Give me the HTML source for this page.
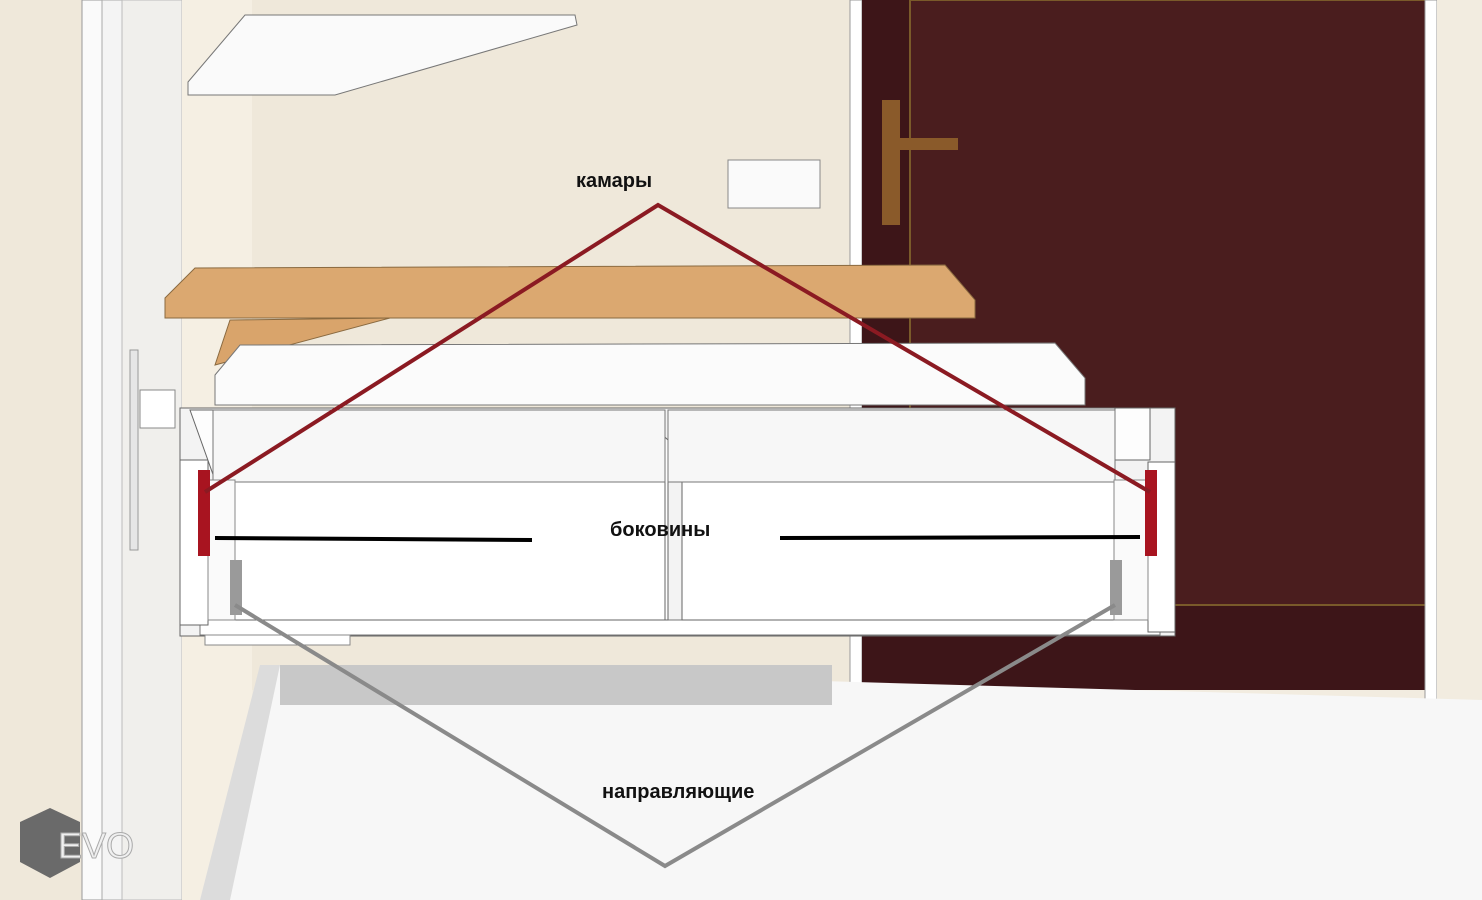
<!DOCTYPE html>
<html><head><meta charset="utf-8"><style>
html,body{margin:0;padding:0;background:#fff}
svg{display:block}
text{font-family:"Liberation Sans",sans-serif;font-weight:bold;font-size:20px;fill:#111}
</style></head><body>
<svg width="1482" height="900" viewBox="0 0 1482 900" xmlns="http://www.w3.org/2000/svg">
<!-- wall -->
<rect x="0" y="0" width="1482" height="900" fill="#f2ece0"/>
<rect x="0" y="0" width="85" height="900" fill="#efe8da"/>
<!-- door frame left -->
<rect x="82" y="0" width="20" height="900" fill="#fafafa" stroke="#999" stroke-width="1"/>
<rect x="102" y="0" width="20" height="900" fill="#f4f4f4" stroke="#aaa" stroke-width="1"/>
<rect x="122" y="0" width="60" height="900" fill="#f0efec" stroke="#bbb" stroke-width="1"/>
<rect x="140" y="390" width="35" height="38" fill="#fff" stroke="#888"/>
<rect x="130" y="350" width="8" height="200" fill="#e6e6e6" stroke="#999"/>
<rect x="182" y="0" width="70" height="900" fill="#f5efe3"/>
<rect x="252" y="0" width="600" height="690" fill="#efe8da"/>
<!-- right door -->
<rect x="850" y="0" width="12" height="705" fill="#fff" stroke="#999"/>
<rect x="862" y="0" width="570" height="690" fill="#3d1518"/>
<rect x="910" y="0" width="520" height="605" fill="#4a1d1e" stroke="#7a5a2a" stroke-width="2"/>
<rect x="1425" y="0" width="12" height="705" fill="#fff" stroke="#999"/>
<rect x="1437" y="0" width="45" height="740" fill="#f2ece0"/>
<!-- handle -->
<rect x="882" y="100" width="18" height="125" fill="#8a5a2a"/>
<rect x="890" y="138" width="68" height="12" fill="#8a5a2a"/>
<!-- floor -->
<polygon points="200,900 265,665 1482,700 1482,900" fill="#f7f7f7"/>
<rect x="280" y="665" width="552" height="40" fill="#c8c8c8"/>
<polygon points="200,900 260,665 280,665 230,900" fill="#dcdcdc"/>
<!-- top shelf -->
<polygon points="188,82 245,15 575,15 577,25 335,95 188,95" fill="#fafafa" stroke="#777"/>
<!-- switch -->
<rect x="728" y="160" width="92" height="48" fill="#fafafa" stroke="#888"/>
<!-- wood shelf -->
<polygon points="230,320 215,365 390,318" fill="#d9a46b" stroke="#8a6a40"/>
<polygon points="165,298 195,268 945,265 975,300 975,318 165,318" fill="#dba870" stroke="#8a6a40"/>
<!-- white shelf -->
<polygon points="215,375 240,345 1055,343 1085,378 1085,405 215,405" fill="#fbfbfb" stroke="#777"/>
<!-- drawer box -->
<rect x="180" y="408" width="995" height="228" fill="#f3f3f3" stroke="#666"/>
<rect x="200" y="620" width="960" height="15" fill="#fff" stroke="#777"/>
<rect x="205" y="635" width="145" height="10" fill="#fff" stroke="#888"/>
<rect x="180" y="460" width="28" height="165" fill="#fff" stroke="#666"/>
<rect x="1148" y="462" width="27" height="170" fill="#fff" stroke="#666"/>
<polygon points="190,410 215,410 245,430 245,480 215,480" fill="#fdfdfd" stroke="#666"/>
<polygon points="245,430 260,430 275,445 275,480 255,480" fill="#fdfdfd" stroke="#666"/>
<polygon points="640,430 655,428 668,440 668,620 640,620" fill="#fdfdfd" stroke="#666"/>
<polygon points="670,428 685,428 700,440 700,480 680,480" fill="#fdfdfd" stroke="#666"/>
<polygon points="1055,440 1070,428 1115,460 1115,470" fill="#fdfdfd" stroke="#666"/>
<polygon points="1115,408 1150,408 1150,460 1115,460" fill="#fdfdfd" stroke="#666"/>
<!-- fronts -->
<rect x="235" y="482" width="430" height="138" fill="#fff" stroke="#666"/>
<rect x="682" y="482" width="432" height="138" fill="#fff" stroke="#666"/>
<rect x="213" y="410" width="452" height="72" fill="#f7f7f7" stroke="#777"/>
<rect x="668" y="410" width="447" height="72" fill="#f7f7f7" stroke="#777"/>
<rect x="208" y="480" width="27" height="140" fill="#fafafa" stroke="#888"/>
<rect x="1114" y="480" width="34" height="140" fill="#fafafa" stroke="#888"/>
<rect x="230" y="560" width="12" height="55" fill="#9a9a9a"/>
<rect x="1110" y="560" width="12" height="55" fill="#9a9a9a"/>
<!-- red sides -->
<rect x="198" y="470" width="12" height="86" fill="#a81420"/>
<rect x="1145" y="470" width="12" height="86" fill="#a81420"/>
<!-- black lines -->
<line x1="215" y1="538" x2="532" y2="540" stroke="#000" stroke-width="4"/>
<line x1="780" y1="538" x2="1140" y2="537" stroke="#000" stroke-width="4"/>
<!-- red connectors -->
<polyline points="205,492 658,205 1150,492" fill="none" stroke="#8b1a22" stroke-width="4"/>
<!-- gray connectors -->
<polyline points="235,605 665,866 1115,605" fill="none" stroke="#8a8a8a" stroke-width="4"/>
<!-- labels -->
<text x="576" y="187">камары</text>
<text x="610" y="536">боковины</text>
<text x="602" y="798">направляющие</text>
<!-- logo -->
<polygon points="20,822 50,808 80,822 80,862 50,878 20,862" fill="#6a6a6a"/>
<text x="58" y="858" style="font-size:36px;font-weight:normal;fill:#f0f0f0;stroke:#aaa;stroke-width:1">EVO</text>
</svg>
</body></html>
